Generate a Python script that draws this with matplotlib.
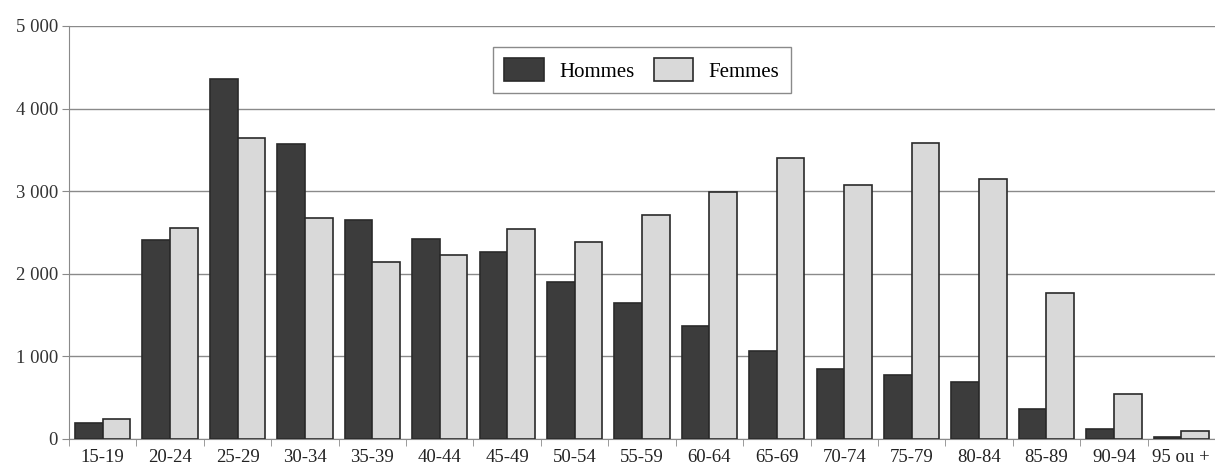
import matplotlib.pyplot as plt
import numpy as np
from matplotlib.ticker import FuncFormatter

plt.rcParams['font.family'] = ['Liberation Serif', 'DejaVu Serif']

categories = ['15-19', '20-24', '25-29', '30-34', '35-39', '40-44', '45-49',
              '50-54', '55-59', '60-64', '65-69', '70-74', '75-79', '80-84',
              '85-89', '90-94', '95 ou +']
hommes = [197, 2410, 4358, 3575, 2654, 2418, 2265, 1895, 1647, 1365,
          1068, 843, 771, 690, 367, 121, 28]
femmes = [246, 2558, 3642, 2675, 2145, 2225, 2546, 2389, 2711, 2996,
          3398, 3080, 3578, 3153, 1764, 541, 97]

fig = plt.figure(figsize=(12.15, 4.69), dpi=100)
ax = fig.add_axes([0.0568, 0.064, 0.9432, 0.8806])

x = np.arange(len(categories))
w = 0.41
ax.bar(x - w / 2, hommes, w, color='#3c3c3c', edgecolor='#2a2a2a',
       linewidth=1.2, label='Hommes', zorder=3)
ax.bar(x + w / 2, femmes, w, color='#d9d9d9', edgecolor='#2a2a2a',
       linewidth=1.2, label='Femmes', zorder=3)

ax.set_xlim(-0.5, len(categories) - 0.5)
ax.set_ylim(0, 5000)

# y axis
ax.set_yticks(np.arange(0, 5001, 1000))
ax.yaxis.set_major_formatter(FuncFormatter(lambda v, p: f'{int(v):,}'.replace(',', ' ')))
ax.yaxis.grid(True, color='#8a8a8a', linewidth=1.0, zorder=0)
ax.tick_params(axis='y', length=5, color='#8a8a8a', labelsize=13.5,
               labelcolor='#333333', pad=3)

# x axis: labels centered, tick marks between groups
ax.set_xticks(x)
ax.set_xticklabels(categories)
ax.set_xticks(np.arange(-0.5, len(categories) + 0.5, 1), minor=True)
ax.tick_params(axis='x', which='major', length=0, labelsize=13.5,
               labelcolor='#222222', pad=7)
ax.tick_params(axis='x', which='minor', length=5, color='#8a8a8a')

for side in ['top', 'right']:
    ax.spines[side].set_visible(False)
ax.spines['left'].set_color('#8a8a8a')
ax.spines['bottom'].set_color('#8a8a8a')

leg = ax.legend(loc='upper center', ncol=2, fontsize=15, frameon=True,
                fancybox=False, edgecolor='#8a8a8a', framealpha=1,
                handlelength=1.9, handleheight=1.3, handletextpad=0.75,
                columnspacing=0.9, borderpad=0.55, borderaxespad=1.0)
leg.get_frame().set_linewidth(1.0)

fig.savefig('out.png', dpi=100)
